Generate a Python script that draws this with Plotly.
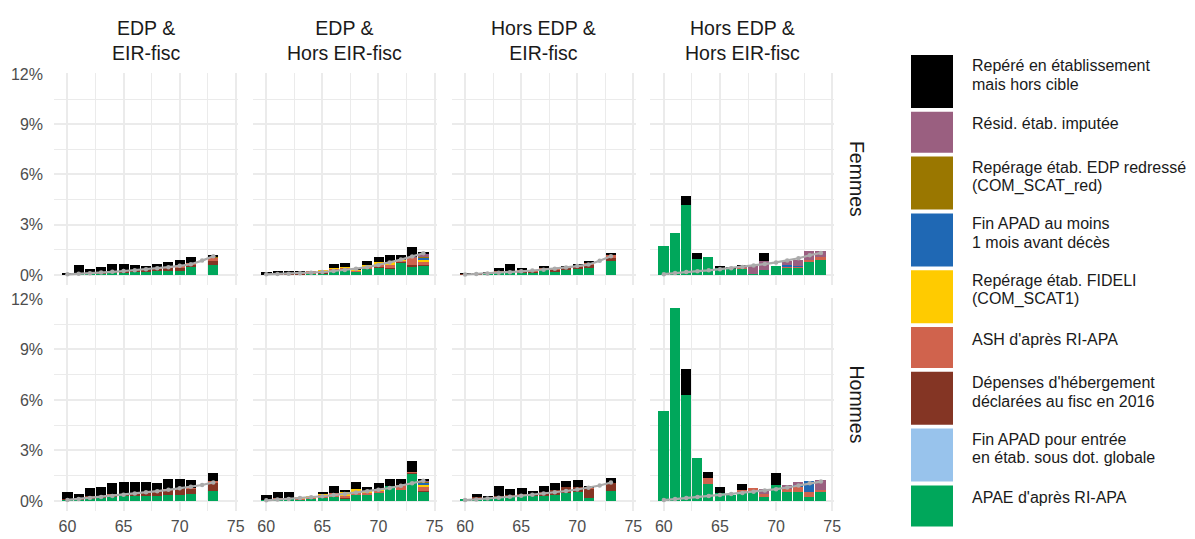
import plotly.graph_objects as go

# ---------------- data ----------------
AGES = list(range(60, 75))
X_TICKS = [60, 65, 70, 75]
Y_TICKS = [0, 3, 6, 9, 12]
Y_TICK_LABELS = ["0%", "3%", "6%", "9%", "12%"]

COLUMNS = ["EDP &<br>EIR-fisc", "EDP &<br>Hors EIR-fisc", "Hors EDP &<br>EIR-fisc", "Hors EDP &<br>Hors EIR-fisc"]
ROWS = ["Femmes", "Hommes"]

# legend order (top to bottom); stacking is the reverse (first = top of bar)
CAT_KEYS = ["hors_cible", "resid", "edp_red", "fin_apad_1m", "fideli", "ash", "depenses", "fin_apad_dot", "apae"]
CAT_LABELS = [
    "Repéré en établissement\nmais hors cible",
    "Résid. étab. imputée",
    "Repérage étab. EDP redressé\n(COM_SCAT_red)",
    "Fin APAD au moins\n1 mois avant décès",
    "Repérage étab. FIDELI\n(COM_SCAT1)",
    "ASH d'après RI-APA",
    "Dépenses d'hébergement\ndéclarées au fisc en 2016",
    "Fin APAD pour entrée\nen étab. sous dot. globale",
    "APAE d'après RI-APA",
]
CAT_COLORS = ["#000000", "#9A5F80", "#9A7700", "#1F68B4", "#FFCB00", "#D0634D", "#843524", "#98C3EC", "#00A75B"]

N = None
# values in % ; ages 60..74
F1 = dict(
    apae=[.02, .05, .08, .10, .12, .15, .15, .18, .20, .22, .25, .45, N, .55, N],
    depenses=[0, .03, .05, .08, .10, .10, .12, .12, .15, .18, .20, .15, N, .25, N],
    ash=[0, 0, 0, 0, .02, 0, 0, 0, .03, .05, .05, .10, N, .20, N],
    edp_red=[0, 0, 0, 0, 0, 0, 0, 0, 0, 0, 0, 0, N, .05, N],
    hors_cible=[.08, .47, .23, .28, .42, .39, .33, .24, .26, .31, .40, .34, N, .15, N],
)
F1_LINE = [.04, .07, .11, .15, .19, .24, .29, .34, .40, .47, .55, .64, .86, 1.12]

F2 = dict(
    apae=[.02, .03, .04, .04, .06, .08, .25, .30, .20, .35, .45, .35, .75, .50, .55],
    depenses=[.02, .02, .03, .05, .04, .03, .02, .02, .02, .02, .03, .03, .03, .05, .03],
    ash=[0, .02, .03, .09, .10, .12, .10, .10, .05, .10, .10, .25, .05, .45, .20],
    fideli=[0, 0, 0, 0, 0, .01, .02, .05, .03, .08, .15, .10, .02, .05, .15],
    fin_apad_1m=[0, 0, 0, 0, 0, 0, 0, 0, 0, 0, 0, 0, 0, 0, .10],
    edp_red=[0, 0, 0, 0, 0, 0, 0, 0, 0, 0, 0, 0, 0, 0, .08],
    resid=[0, 0, 0, 0, 0, 0, 0, 0, 0, 0, 0, 0, 0, .03, .10],
    hors_cible=[.11, .17, .10, .02, 0, 0, .25, .25, .10, .25, .33, .47, .35, .57, .13],
)
F2_LINE = [.04, .06, .08, .11, .14, .18, .24, .30, .38, .47, .60, .75, .92, 1.10, 1.30]

F3 = dict(
    apae=[.03, .03, .10, .15, .20, .15, .12, .30, .20, .30, .35, .40, N, .80, N],
    depenses=[.02, .02, .02, .03, .03, .04, .08, .05, .10, .10, .15, .20, N, .20, N],
    ash=[0, 0, 0, .05, 0, .10, .06, .04, .05, .05, .05, .10, N, .15, N],
    resid=[0, 0, 0, 0, 0, 0, 0, 0, 0, 0, 0, .03, N, 0, N],
    hors_cible=[.05, 0, .03, .17, .43, .11, 0, .15, .05, .09, .11, .03, N, .15, N],
)
F3_LINE = [.03, .06, .09, .13, .17, .22, .27, .32, .38, .45, .53, .62, .85, 1.12]

F4 = dict(
    apae=[1.74, 2.50, 4.14, .94, 1.06, .40, .34, .36, .05, .30, .50, .40, .45, .80, .85],
    ash=[0, 0, 0, 0, 0, 0, 0, .05, 0, 0, 0, .10, .05, .05, .20],
    fin_apad_1m=[0, 0, 0, 0, 0, 0, 0, 0, 0, 0, 0, .10, .03, 0, 0],
    resid=[0, 0, 0, 0, 0, 0, 0, .10, .55, .50, 0, .20, .37, .59, .39],
    hors_cible=[0, 0, .56, .36, 0, .14, .10, .05, 0, .50, 0, 0, 0, 0, 0],
)
F4_LINE = [.05, .12, .18, .23, .28, .35, .41, .48, .56, .65, .75, .86, 1.00, 1.18, 1.32]

H1 = dict(
    apae=[.05, .02, .15, .15, .20, .25, .25, .25, .30, .35, .35, .38, N, .60, N],
    depenses=[.05, .15, .10, .15, .15, .15, .20, .25, .25, .30, .35, .32, N, .50, N],
    ash=[0, 0, 0, 0, .02, 0, 0, .02, 0, .03, .02, .03, N, .05, N],
    hors_cible=[.42, .25, .51, .54, .67, .70, .63, .60, .49, .58, .54, .47, N, .50, N],
)
H1_LINE = [.06, .12, .18, .24, .30, .37, .44, .51, .58, .66, .75, .84, .95, 1.10]

H2 = dict(
    apae=[.05, .10, .12, .06, .10, .15, .20, .10, .35, .35, .50, .90, .65, 1.60, .55],
    depenses=[0, 0, 0, 0, 0, 0, 0, .05, 0, 0, 0, 0, 0, .05, .02],
    ash=[0, .05, .05, .06, .09, .20, .25, .15, .10, .10, .10, 0, .30, .05, .25],
    fideli=[0, 0, 0, .04, .05, .05, 0, .20, .25, .12, .10, 0, 0, 0, .15],
    fin_apad_1m=[0, 0, 0, 0, 0, 0, 0, 0, 0, 0, 0, 0, 0, 0, .10],
    edp_red=[0, 0, 0, 0, 0, 0, 0, 0, 0, 0, 0, 0, 0, 0, .05],
    resid=[0, 0, 0, 0, 0, 0, 0, 0, 0, 0, 0, 0, 0, 0, .08],
    hors_cible=[.27, .35, .37, 0, 0, .06, .45, .16, .38, .25, .34, .40, .35, .66, .06],
)
H2_LINE = [.04, .08, .12, .17, .22, .28, .35, .42, .50, .58, .67, .77, .90, 1.05, 1.20]

H3 = dict(
    apae=[.12, .10, .15, .20, .20, .25, .25, .30, .35, .45, .50, .15, N, .55, N],
    depenses=[0, .10, .05, .10, .12, .15, .15, .20, .30, .35, .30, .60, N, .50, N],
    ash=[0, 0, 0, 0, 0, 0, .05, 0, 0, 0, 0, .05, N, .02, N],
    hors_cible=[0, .20, .06, .60, .36, .36, .11, .36, .39, .34, .42, .04, N, .28, N],
)
H3_LINE = [.05, .09, .14, .19, .25, .31, .37, .44, .51, .59, .68, .78, .92, 1.10]

H4 = dict(
    apae=[5.34, 11.44, 6.28, 2.56, 1.00, .45, .34, .48, .49, .22, .95, .50, .50, .22, .55],
    ash=[0, 0, 0, 0, .32, 0, 0, .16, .26, .20, 0, .20, .35, .32, .10],
    fin_apad_1m=[0, 0, 0, 0, 0, 0, 0, 0, 0, 0, 0, 0, .08, .60, 0],
    resid=[0, 0, 0, 0, 0, 0, 0, 0, 0, .28, 0, .25, .15, 0, .55],
    hors_cible=[0, 0, 1.52, 0, .36, .35, 0, .36, 0, 0, .68, 0, 0, 0, 0],
)
H4_LINE = [.05, .12, .18, .24, .30, .36, .42, .48, .55, .62, .70, .80, .92, 1.05, 1.15]

PANELS = [[(F1, F1_LINE), (F2, F2_LINE), (F3, F3_LINE), (F4, F4_LINE)],
          [(H1, H1_LINE), (H2, H2_LINE), (H3, H3_LINE), (H4, H4_LINE)]]

# ---------------- layout geometry (pixels) ----------------
W, H = 1195, 539
COL_LEFT = [54, 252.8, 451.6, 650.4]
COL_W = 184
ROW_TOP = [73.3, 298.3]
ROW_BOT = [284.6, 510.6]
X_RANGE = [58.8, 75.2]
Y_RANGE = [-0.573, 12.04]
FONT = "Liberation Sans, Arial, sans-serif"
GRID = "#EBEBEB"

fig = go.Figure()
layout = dict(
    template="none",
    width=W, height=H, autosize=False,
    margin=dict(l=0, r=0, t=0, b=0, pad=0, autoexpand=False),
    paper_bgcolor="white", plot_bgcolor="white",
    barmode="stack", bargap=0, showlegend=False,
    font=dict(family=FONT),
)

stack_order = list(reversed(CAT_KEYS))  # bottom first
annotations = []
shapes = []
for r in range(2):
    for c in range(4):
        p = r * 4 + c + 1
        xa = "x" if p == 1 else f"x{p}"
        ya = "y" if p == 1 else f"y{p}"
        data, line = PANELS[r][c]
        for key in stack_order:
            if key not in data:
                continue
            color = CAT_COLORS[CAT_KEYS.index(key)]
            fig.add_trace(go.Bar(
                x=AGES, y=data[key], width=0.9, marker=dict(color=color, line=dict(width=0)),
                xaxis=xa, yaxis=ya, name=key,
            ))
        fig.add_trace(go.Scatter(
            x=AGES[:len(line)], y=line, mode="lines+markers",
            line=dict(color="#ABABAB", width=2.2), marker=dict(color="#ABABAB", size=4.5),
            xaxis=xa, yaxis=ya,
        ))
        x0 = COL_LEFT[c] / W
        x1 = (COL_LEFT[c] + COL_W) / W
        y0 = 1 - ROW_BOT[r] / H
        y1 = 1 - ROW_TOP[r] / H
        layout["xaxis" if p == 1 else f"xaxis{p}"] = dict(
            domain=[x0, x1], range=X_RANGE, anchor=ya, automargin=False,
            tickmode="array", tickvals=X_TICKS, showticklabels=(r == 1),
            showgrid=True, gridcolor=GRID, gridwidth=1.8,
            minor=dict(tickmode="array", tickvals=[62.5, 67.5, 72.5], showgrid=True, gridcolor=GRID, gridwidth=1.0),
            zeroline=False, showline=False, ticks="",
            tickfont=dict(size=16, color="#4D4D4D", family=FONT), ticklabelstandoff=4,
            fixedrange=True,
        )
        layout["yaxis" if p == 1 else f"yaxis{p}"] = dict(
            domain=[y0, y1], range=Y_RANGE, anchor=xa, automargin=False,
            tickmode="array", tickvals=Y_TICKS, ticktext=Y_TICK_LABELS, showticklabels=(c == 0),
            showgrid=True, gridcolor=GRID, gridwidth=1.8,
            minor=dict(tickmode="array", tickvals=[1.5, 4.5, 7.5, 10.5], showgrid=True, gridcolor=GRID, gridwidth=1.0),
            zeroline=False, showline=False, ticks="",
            tickfont=dict(size=16, color="#4D4D4D", family=FONT), ticklabelstandoff=10,
            fixedrange=True,
        )
    # row strip label
    annotations.append(dict(
        text=ROWS[r], x=857 / W, y=1 - (ROW_TOP[r] + ROW_BOT[r]) / 2 / H, xref="paper", yref="paper",
        showarrow=False, textangle=90, xanchor="center", yanchor="middle",
        font=dict(size=19.5, color="#1A1A1A", family=FONT),
    ))

for c in range(4):
    annotations.append(dict(
        text=COLUMNS[c], x=(COL_LEFT[c] + COL_W / 2) / W, y=1 - 40.5 / H, xref="paper", yref="paper",
        showarrow=False, xanchor="center", yanchor="middle",
        font=dict(size=19.5, color="#1A1A1A", family=FONT),
    ))

# legend drawn manually
top = 55
for label, color in zip(CAT_LABELS, CAT_COLORS):
    lines = label.split("\n")
    h = 53 if len(lines) > 1 else 41
    shapes.append(dict(type="rect", xref="paper", yref="paper",
                       x0=911 / W, x1=953 / W, y0=1 - (top + h) / H, y1=1 - top / H,
                       fillcolor=color, line=dict(width=0)))
    for i, t in enumerate(lines):
        ty = top + (10.5 + 18.7 * i if len(lines) > 1 else 12)
        annotations.append(dict(
            text=t, x=970 / W, y=1 - ty / H, xref="paper", yref="paper",
            showarrow=False, xanchor="left", yanchor="middle",
            font=dict(size=16, color="#1A1A1A", family=FONT),
        ))
    top += h + 3.8

layout["annotations"] = annotations
layout["shapes"] = shapes
fig.update_layout(**layout)
fig.write_html("out.html", config={"displayModeBar": False},
               post_script="document.body.style.margin='0';document.body.style.overflow='hidden';")
